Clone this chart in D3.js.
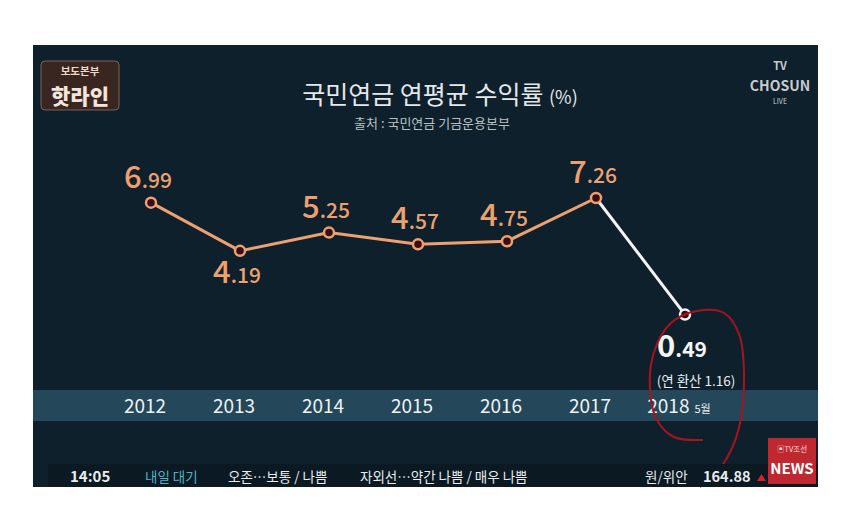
<!DOCTYPE html>
<html>
<head>
<meta charset="utf-8">
<script src="https://cdn.jsdelivr.net/npm/d3@7"></script>
<style>
  body { margin: 0; background: #fff; }
  text { font-family: "Noto Sans CJK KR", "Noto Sans", sans-serif; }
</style>
</head>
<body>
<div id="chart"></div>
<script>
const years = ['2012', '2013', '2014', '2015', '2016', '2017', '2018'];
const values = [6.99, 4.19, 5.25, 4.57, 4.75, 7.26, 0.49];
const below = [false, true, false, false, false, false, true];
const yearNotes = ['', '', '', '', '', '', '5월'];
const tickerItems = ['14:05', '내일 대기', '오존…보통 / 나쁨', '자외선…약간 나쁨 / 매우 나쁨'];

const width = 850;
const height = 524;

const svg = d3.select('#chart').append('svg')
  .attr('width', width)
  .attr('height', height);

// dark screen panel
svg.append('rect')
  .attr('x', 33).attr('y', 45).attr('width', 785).attr('height', 442)
  .attr('fill', '#0e202c');

const x = d3.scalePoint().domain(years).range([151, 685]);
const y = d3.scaleLinear().domain([0, 7.26]).range([323, 198]);

// title
svg.append('text')
  .attr('x', 440).attr('y', 104)
  .attr('text-anchor', 'middle')
  .attr('fill', '#e4e8ea')
  .attr('font-size', 25)
  .attr('font-weight', 400)
  .text('국민연금 연평균 수익률 ')
  .append('tspan').attr('font-size', 18).text('(%)');

svg.append('text')
  .attr('x', 432).attr('y', 128)
  .attr('text-anchor', 'middle')
  .attr('fill', '#b8c0c4')
  .attr('font-size', 13)
  .text('출처 : 국민연금 기금운용본부');

// year band
svg.append('rect')
  .attr('x', 33).attr('y', 390).attr('width', 785).attr('height', 31)
  .attr('fill', '#24475a');

const yearLabels = svg.append('g').selectAll('text')
  .data(years)
  .enter()
  .append('text')
  .attr('x', d => x(d) - 6)
  .attr('y', 413)
  .attr('text-anchor', 'middle')
  .attr('fill', '#eef2f4')
  .attr('font-size', 19)
  .text(d => d);

yearLabels.filter((d, i) => yearNotes[i])
  .append('tspan')
  .attr('dx', 5)
  .attr('font-size', 11)
  .text((d) => yearNotes[years.indexOf(d)]);

// line
const pts = years.map((d, i) => ({ year: d, value: values[i], below: below[i] }));
const line = d3.line().x(d => x(d.year)).y(d => y(d.value));

svg.append('path')
  .datum(pts.slice(0, 6))
  .attr('d', line)
  .attr('fill', 'none')
  .attr('stroke', '#efa070')
  .attr('stroke-width', 3);

svg.append('path')
  .datum(pts.slice(5))
  .attr('d', line)
  .attr('fill', 'none')
  .attr('stroke', '#f4f4f4')
  .attr('stroke-width', 3);

svg.append('g').selectAll('circle')
  .data(pts)
  .enter()
  .append('circle')
  .attr('cx', d => x(d.year))
  .attr('cy', d => y(d.value))
  .attr('r', 5)
  .attr('fill', '#3a0c14')
  .attr('stroke', (d, i) => i === 6 ? '#f4f4f4' : '#efa070')
  .attr('stroke-width', 2.5);

// value labels
const labels = svg.append('g').selectAll('text')
  .data(pts)
  .enter()
  .append('text')
  .attr('x', d => x(d.year) - 3)
  .attr('y', (d, i) => i === 6 ? y(d.value) + 42 : d.below ? y(d.value) + 32 : y(d.value) - 15)
  .attr('text-anchor', 'middle')
  .attr('fill', (d, i) => i === 6 ? '#f4f4f4' : '#efa070')
  .attr('font-weight', (d, i) => i === 6 ? 600 : 500);

labels.append('tspan')
  .attr('font-size', 31)
  .text(d => d.value.toFixed(2).split('.')[0]);
labels.append('tspan')
  .attr('font-size', 21)
  .text(d => '.' + d.value.toFixed(2).split('.')[1]);

svg.append('text')
  .attr('x', x('2018') + 11)
  .attr('y', y(values[6]) + 71)
  .attr('text-anchor', 'middle')
  .attr('fill', '#e8ecee')
  .attr('font-size', 13.5)
  .text('(연 환산 1.16)');

// hand-drawn red circle around 2018
const loop = [[703, 440], [674, 437], [657, 420], [650, 390], [654, 352], [671, 323], [697, 311],
  [724, 313], [739, 334], [744, 375], [739, 428], [722, 466], [700, 487]];
svg.append('path')
  .attr('d', d3.line().curve(d3.curveCatmullRom)(loop))
  .attr('fill', 'none')
  .attr('stroke', '#a8141e')
  .attr('stroke-width', 2);

// ticker bar
svg.append('rect')
  .attr('x', 48).attr('y', 464).attr('width', 770).attr('height', 23)
  .attr('fill', '#0a1922');

const tickerX = [70, 145, 228, 360];
svg.append('g').selectAll('text')
  .data(tickerItems)
  .enter()
  .append('text')
  .attr('x', (d, i) => tickerX[i])
  .attr('y', 482)
  .attr('fill', (d, i) => i === 1 ? '#4cb6c8' : '#e8ecee')
  .attr('font-size', (d, i) => i === 0 ? 15 : 13.5)
  .attr('font-weight', (d, i) => i === 0 ? 600 : 400)
  .text(d => d);

svg.append('text')
  .attr('x', 645).attr('y', 482)
  .attr('fill', '#e8ecee').attr('font-size', 13.5)
  .text('원/위안');
svg.append('text')
  .attr('x', 703).attr('y', 482)
  .attr('fill', '#e8ecee').attr('font-size', 14.5).attr('font-weight', 600)
  .text('164.88');
svg.append('path')
  .attr('d', 'M757,481 L766,481 L761.5,474 Z')
  .attr('fill', '#d8202a');

// logos
const logo = svg.append('g');
logo.append('rect')
  .attr('x', 41).attr('y', 61).attr('width', 78).attr('height', 49).attr('rx', 4)
  .attr('fill', '#3a2620').attr('stroke', '#7a6258').attr('stroke-width', 1);
logo.append('text')
  .attr('x', 80).attr('y', 75).attr('text-anchor', 'middle')
  .attr('fill', '#f0d8cc').attr('font-size', 10.5).attr('font-weight', 700)
  .text('보도본부');
logo.append('text')
  .attr('x', 80).attr('y', 104).attr('text-anchor', 'middle')
  .attr('fill', '#f4e4dc').attr('font-size', 21).attr('font-weight', 900)
  .text('핫라인');

const tv = svg.append('g').attr('fill', '#c8ccd0').attr('text-anchor', 'middle');
tv.append('text').attr('x', 780).attr('y', 70).attr('font-size', 11).attr('font-weight', 700).text('TV');
tv.append('text').attr('x', 780).attr('y', 91).attr('font-size', 14).attr('font-weight', 700).text('CHOSUN');
tv.append('text').attr('x', 780).attr('y', 104).attr('font-size', 7).text('LIVE');

const news = svg.append('g');
news.append('rect')
  .attr('x', 768).attr('y', 438).attr('width', 48).attr('height', 46)
  .attr('fill', '#c02830');
news.append('text')
  .attr('x', 792).attr('y', 452).attr('text-anchor', 'middle')
  .attr('fill', '#f4dcdc').attr('font-size', 7.5).text('▣TV조선');
news.append('text')
  .attr('x', 792).attr('y', 474).attr('text-anchor', 'middle')
  .attr('fill', '#ffffff').attr('font-size', 15).attr('font-weight', 700).text('NEWS');
</script>
</body>
</html>
